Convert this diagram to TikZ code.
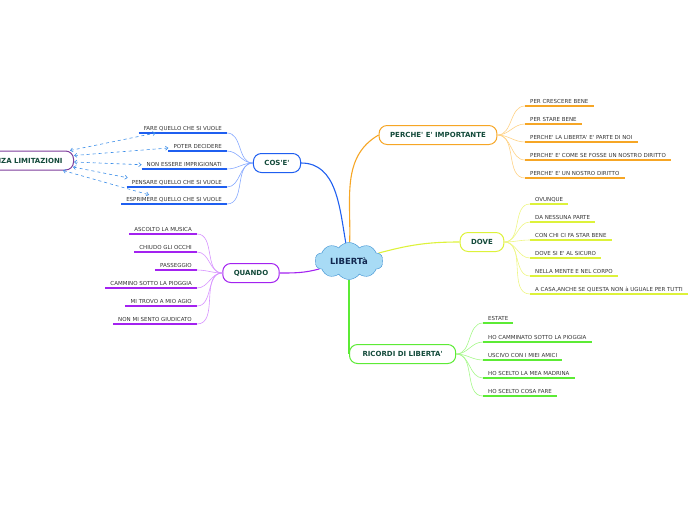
\documentclass[tikz,border=0pt]{standalone}
\usepackage{fontspec}
\setmainfont{DejaVu Sans}[Ligatures=TeXOff]
\usepackage{tikz}
\usetikzlibrary{arrows.meta,shapes.symbols,backgrounds,calc}
\definecolor{topictext}{HTML}{134A3A}
\definecolor{leaftext}{HTML}{333333}
\definecolor{cloudfill}{HTML}{A8DBF5}
\definecolor{cloudline}{HTML}{3A8FD2}
\definecolor{cloudtext}{HTML}{122850}
\definecolor{cosline}{HTML}{1F5FF0}
\definecolor{cossub}{HTML}{85A8FF}
\definecolor{whyline}{HTML}{F6A625}
\definecolor{whysub}{HTML}{FFD285}
\definecolor{doveline}{HTML}{DDF23A}
\definecolor{dovesub}{HTML}{EEF685}
\definecolor{ricline}{HTML}{5CEB35}
\definecolor{ricsub}{HTML}{A6F88A}
\definecolor{qualine}{HTML}{A322F0}
\definecolor{quasub}{HTML}{D794FF}
\definecolor{senzaline}{HTML}{7E3E9C}
\definecolor{relline}{HTML}{3B8DE8}

\begin{document}
\begin{tikzpicture}[
    x=1pt, y=-1pt,
    topic/.style={draw, rounded corners=8pt, fill=white, line width=1pt, font=\fontsize{7}{8}\selectfont\bfseries, text=topictext, minimum height=19pt, inner xsep=11pt},
    leaf/.style={font=\fontsize{5.5}{6.5}\selectfont, text=leaftext, inner xsep=5pt, inner ysep=2pt},
    main/.style={line width=1.1pt},
    sub/.style={line width=0.6pt},
    uline/.style={line width=1.4pt},
    rel/.style={draw=relline, dashed, line width=0.6pt, {Straight Barb[length=2.4pt,width=4pt]}-{Straight Barb[length=2.4pt,width=4pt]}}
  ]
  \useasboundingbox (0,0) rectangle (696,520);

  % Centre
  \node[cloud, cloud puffs=10, cloud puff arc=110, aspect=1.9, draw=cloudline, fill=cloudfill, minimum width=68pt, minimum height=37pt, inner sep=0pt, font=\fontsize{8.5}{9}\selectfont\bfseries, text=cloudtext] (lib) at (349,261) {LIBERTà};

  % Topics
  \node[topic, draw=cosline] (cose) at (277,163) {COS'E'};
  \node[topic, draw=whyline] (why) at (438,135) {PERCHE' E' IMPORTANTE};
  \node[topic, draw=doveline] (dove) at (482,242) {DOVE};
  \node[topic, draw=ricline, anchor=west, inner xsep=13pt] (ric) at (349,354) {RICORDI DI LIBERTA'};
  \node[topic, draw=qualine] (qua) at (251,273) {QUANDO};
  \node[topic, draw=senzaline, anchor=east] (senza) at (74,160.5) {SENZA LIMITAZIONI};

  % Cos'e'
  \node[leaf, anchor=south east] (c1) at (227,133) {FARE QUELLO CHE SI VUOLE};
  \node[leaf, anchor=south east] (c2) at (227,151) {POTER DECIDERE};
  \node[leaf, anchor=south east] (c3) at (227,169) {NON ESSERE IMPRIGIONATI};
  \node[leaf, anchor=south east] (c4) at (227,187) {PENSARE QUELLO CHE SI VUOLE};
  \node[leaf, anchor=south east] (c5) at (227,204) {ESPRIMERE QUELLO CHE SI VUOLE};

  % Quando
  \node[leaf, anchor=south east] (q1) at (197,234) {ASCOLTO LA MUSICA};
  \node[leaf, anchor=south east] (q2) at (197,252) {CHIUDO GLI OCCHI};
  \node[leaf, anchor=south east] (q3) at (197,270) {PASSEGGIO};
  \node[leaf, anchor=south east] (q4) at (197,288) {CAMMINO SOTTO LA PIOGGIA};
  \node[leaf, anchor=south east] (q5) at (197,306) {MI TROVO A MIO AGIO};
  \node[leaf, anchor=south east] (q6) at (197,324) {NON MI SENTO GIUDICATO};

  % Perche' e' importante
  \node[leaf, anchor=south west] (p1) at (525,106) {PER CRESCERE BENE};
  \node[leaf, anchor=south west] (p2) at (525,124) {PER STARE BENE};
  \node[leaf, anchor=south west] (p3) at (525,142) {PERCHE' LA LIBERTA' E' PARTE DI NOI};
  \node[leaf, anchor=south west] (p4) at (525,160) {PERCHE' E' COME SE FOSSE UN NOSTRO DIRITTO};
  \node[leaf, anchor=south west] (p5) at (525,178) {PERCHE' E' UN NOSTRO DIRITTO};

  % Dove
  \node[leaf, anchor=south west] (d1) at (530,204) {OVUNQUE};
  \node[leaf, anchor=south west] (d2) at (530,222) {DA NESSUNA PARTE};
  \node[leaf, anchor=south west] (d3) at (530,240) {CON CHI CI FA STAR BENE};
  \node[leaf, anchor=south west] (d4) at (530,258) {DOVE SI E' AL SICURO};
  \node[leaf, anchor=south west] (d5) at (530,276) {NELLA MENTE E NEL CORPO};
  \node[leaf, anchor=south west] (d6) at (530,294) {A CASA,ANCHE SE QUESTA NON à UGUALE PER TUTTI};

  % Ricordi
  \node[leaf, anchor=south west] (r1) at (483,323) {ESTATE};
  \node[leaf, anchor=south west] (r2) at (483,342) {HO CAMMINATO SOTTO LA PIOGGIA};
  \node[leaf, anchor=south west] (r3) at (483,360) {USCIVO CON I MIEI AMICI};
  \node[leaf, anchor=south west] (r4) at (483,378) {HO SCELTO LA MEA MADRINA};
  \node[leaf, anchor=south west] (r5) at (483,396) {HO SCELTO COSA FARE};

  % Main branches
  \begin{scope}[on background layer]
    \draw[main, cosline] (cose.east) to[out=0,in=100] (lib);
    \draw[main, whyline] (lib) to[out=88,in=-150] (why.west);
    \draw[main, doveline] (lib) to[out=15,in=180] (dove.west);
    \draw[main, ricline] (lib) -- (ric.west);
    \draw[main, qualine] (lib) to[out=195,in=0] (qua.east);
  \end{scope}

  % Sub branches and underlines
  \foreach \i in {1,...,5} {
    \draw[sub, cossub] (cose.west) to[out=180,in=0] (c\i.south east);
    \draw[uline, cosline] (c\i.south west) -- (c\i.south east);
  }
  \foreach \i in {1,...,6} {
    \draw[sub, quasub] (qua.west) to[out=180,in=0] (q\i.south east);
    \draw[uline, qualine] (q\i.south west) -- (q\i.south east);
  }
  \foreach \i in {1,...,5} {
    \draw[sub, whysub] (why.east) to[out=0,in=180] (p\i.south west);
    \draw[uline, whyline] (p\i.south west) -- (p\i.south east);
  }
  \foreach \i in {1,...,6} {
    \draw[sub, dovesub] (dove.east) to[out=0,in=180] (d\i.south west);
    \draw[uline, doveline] (d\i.south west) -- (d\i.south east);
  }
  \foreach \i in {1,...,5} {
    \draw[sub, ricsub] (ric.east) to[out=0,in=180] (r\i.south west);
    \draw[uline, ricline] (r\i.south west) -- (r\i.south east);
  }

  % Relations
  \draw[rel] ([xshift=-4pt,yshift=10pt]senza.east) -- ([xshift=17pt]c1.south west);
  \draw[rel] ([yshift=5pt]senza.east) -- ([yshift=3pt]c2.south west);
  \draw[rel] ([yshift=-1.5pt]senza.east) -- (c3.west);
  \draw[rel] ([xshift=-1pt,yshift=-6.5pt]senza.east) -- ([xshift=1pt]c4.north west);
  \draw[rel] ([xshift=-11pt]senza.south east) -- ([xshift=28pt]c5.north west);
\end{tikzpicture}
\end{document}
